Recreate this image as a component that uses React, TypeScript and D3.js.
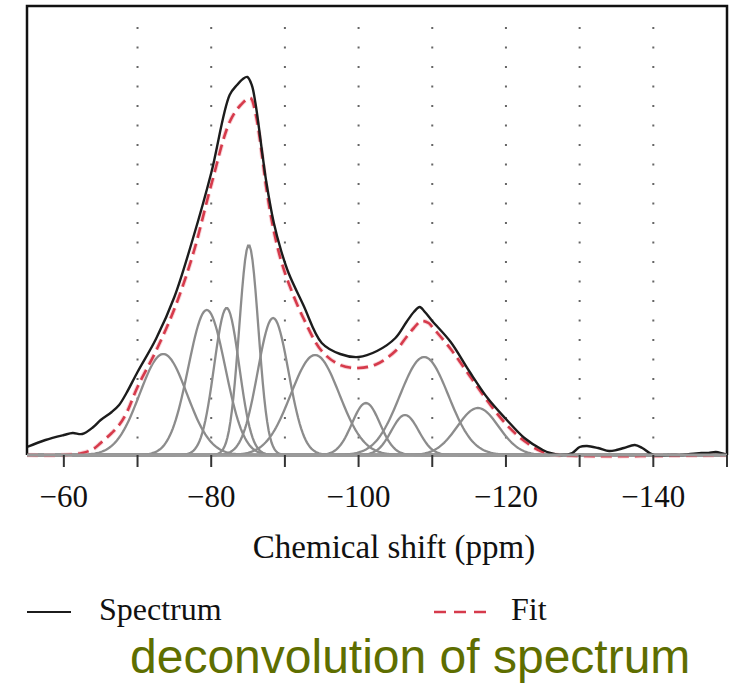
import React from "react";
import * as d3 from "d3";

// Measured spectrum (chemical shift in ppm, intensity in a.u.)
const spectrumPpm = [-55, -57.5, -60, -61.2, -62.5, -64, -65, -66.5, -67.5, -68.5, -70, -72.5, -75, -77.5, -80, -82.5, -83.5, -84.3, -84.9, -85.5, -86, -87, -87.5, -88.5, -89.5, -90.5, -92.5, -95, -97.5, -100, -102.5, -105, -106.5, -107.5, -108.3, -109, -110, -112.5, -115, -117.5, -120, -122.5, -125, -126, -127.5, -129, -130, -131, -132.5, -134, -135, -136, -137.5, -138.5, -140, -142.5, -144, -145, -146.5, -147.5, -148.5, -150];
const spectrumI = [8, 15, 20, 22, 21, 28, 35, 43, 50, 62, 83, 116, 158, 216, 282, 360, 370, 376, 378, 370, 352, 298, 272, 232, 204, 182, 150, 112, 101, 98, 104, 117, 133, 143, 148, 143, 134, 113, 84, 57, 36, 17, 5, 2, 0, 2, 8, 9, 7, 4, 5, 7, 10, 7, 0, 0, 0, 1, 2, 2, 3, 0];

// Fit (sum of components) as drawn
const fitPpm = [-55, -60, -62.5, -64, -65, -66.5, -67.5, -68.5, -70, -72.5, -75, -77.5, -80, -82.5, -84, -85.3, -86, -87, -87.5, -88.5, -89.5, -90.5, -92.5, -95, -97.5, -100, -102.5, -105, -106.5, -107.5, -108.5, -109.5, -110, -112.5, -115, -117.5, -120, -122.5, -125, -127, -150];
const fitI = [0, 0, 2, 6, 12, 22, 30, 42, 68, 104, 146, 200, 270, 333, 350, 357, 342, 294, 266, 224, 194, 172, 137, 104, 90, 87, 91, 104, 118, 127, 134, 132, 128, 106, 80, 54, 31, 14, 3, 0, 0];

// Gaussian components: centre (ppm), height (a.u.), width sigma (ppm)
const compCenter = [-73.5, -79.4, -82.1, -85.1, -88.4, -94.1, -101.0, -106.3, -108.9, -116.2];
const compHeight = [101, 145, 147, 210, 137, 100, 52, 40, 98, 47];
const compSigma = [3.2, 2.5, 1.7, 1.3, 2.1, 3.3, 1.9, 1.85, 3.3, 2.8];

const axisTicks = [-60, -70, -80, -90, -100, -110, -120, -130, -140, -150];
const tickLabels = [-60, -80, -100, -120, -140];
const gridLines = [-70, -80, -90, -100, -110, -120, -130, -140];

const W = 743;
const H = 685;
const L = 27, R = 727, T = 6, B = 455;

export default function App() {
  const x = d3.scaleLinear().domain([-55, -150]).range([L, R]);
  const y = d3.scaleLinear().domain([0, 449]).range([B, T]);

  const line = d3
    .line<[number, number]>()
    .x((d) => x(d[0]))
    .y((d) => y(d[1]))
    .curve(d3.curveCatmullRom.alpha(0.5));

  const spec: [number, number][] = spectrumPpm.map((p, i) => [p, spectrumI[i]]);
  const fit: [number, number][] = fitPpm.map((p, i) => [p, fitI[i]]);

  const grid = d3.range(-55, -150.001, -0.2);
  const compLine = d3
    .line<[number, number]>()
    .x((d) => x(d[0]))
    .y((d) => y(d[1]));
  const comps = compCenter.map((c, k) =>
    grid.map((p) => [p, compHeight[k] * Math.exp(-((p - c) ** 2) / (2 * compSigma[k] ** 2))] as [number, number])
  );

  const serif = "'Liberation Serif', 'DejaVu Serif', serif";

  return (
    <svg width={W} height={H} style={{ position: "absolute", left: 0, top: 0, background: "#fff" }}>
      {/* dotted grid */}
      {gridLines.map((g) => (
        <line
          key={g}
          x1={x(g)}
          x2={x(g)}
          y1={27}
          y2={B}
          stroke="#666"
          strokeWidth={2}
          strokeDasharray="2 17.5"
        />
      ))}
      {/* components */}
      {comps.map((c, k) => (
        <path key={k} d={compLine(c) || ""} fill="none" stroke="#8c8c8c" strokeWidth={2.3} />
      ))}
      {/* fit */}
      <path d={line(fit) || ""} fill="none" stroke="#f4b8be" strokeWidth={4.5} strokeDasharray="11 6" opacity={0.6} />
      <path d={line(fit) || ""} fill="none" stroke="#d63a4b" strokeWidth={2.6} strokeDasharray="11 6" />
      {/* spectrum */}
      <path d={line(spec) || ""} fill="none" stroke="#1c1c1c" strokeWidth={2.4} />
      {/* frame */}
      <path d={`M${L},${B} L${L},${T} L${R},${T} L${R},${B}`} fill="none" stroke="#111" strokeWidth={2.5} />
      <line x1={L} x2={R} y1={B} y2={B} stroke="#9a9a9a" strokeWidth={3} />
      {/* ticks */}
      {axisTicks.map((t) => (
        <line key={t} x1={x(t)} x2={x(t)} y1={B} y2={B + 12} stroke="#333" strokeWidth={2} />
      ))}
      {tickLabels.map((t) => (
        <text
          key={t}
          x={x(t)}
          y={507}
          textAnchor="middle"
          fontFamily={serif}
          fontSize={31}
          fill="#111"
        >
          {"\u2212" + Math.abs(t)}
        </text>
      ))}
      <text x={394} y={558} textAnchor="middle" fontFamily={serif} fontSize={33} fill="#111">
        Chemical shift (ppm)
      </text>
      {/* legend */}
      <line x1={27} x2={71} y1={612} y2={612} stroke="#1c1c1c" strokeWidth={2.2} />
      <text x={99} y={620} fontFamily={serif} fontSize={32} fill="#111">
        Spectrum
      </text>
      <line x1={434} x2={494} y1={612} y2={612} stroke="#d63a4b" strokeWidth={2.5} strokeDasharray="12 8" />
      <text x={511} y={620} fontFamily={serif} fontSize={32} fill="#111">
        Fit
      </text>
      <text
        x={130}
        y={673}
        fontFamily="'Liberation Sans', Arial, sans-serif"
        fontSize={48}
        fill="#5e6e00"
      >
        deconvolution of spectrum
      </text>
    </svg>
  );
}
